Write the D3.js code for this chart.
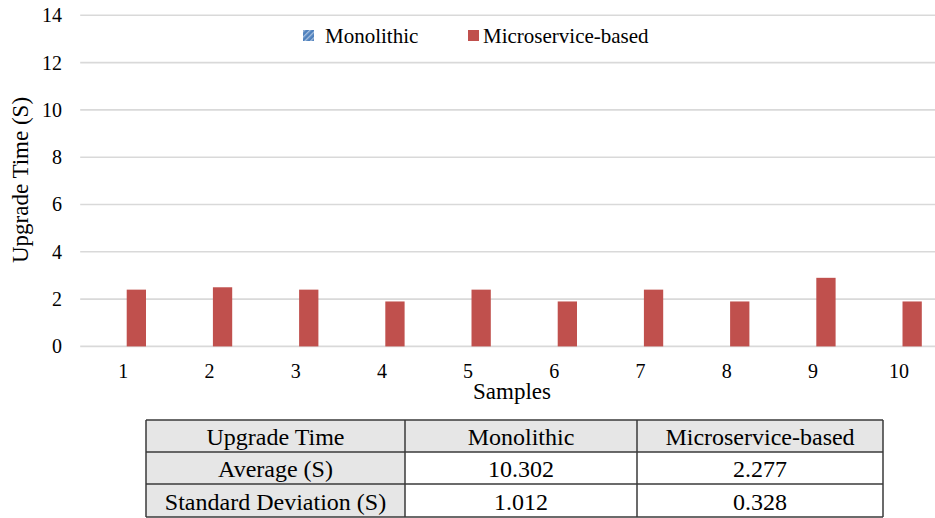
<!DOCTYPE html>
<html>
<head>
<meta charset="utf-8">
<script src="https://cdn.jsdelivr.net/npm/d3@7"></script>
</head>
<body style="margin:0;background:#fff">
<svg id="chart" width="935" height="518" font-family="Liberation Serif"></svg>
<script>
// Upgrade time per sample (seconds)
const samples = ["1", "2", "3", "4", "5", "6", "7", "8", "9", "10"];
const seriesNames = ["Monolithic", "Microservice-based"];
const microserviceTimes = [2.4, 2.5, 2.4, 1.9, 2.4, 1.9, 2.4, 1.9, 2.9, 1.9];
const yTicks = [0, 2, 4, 6, 8, 10, 12, 14];

// Summary table
const tableHeader = ["Upgrade Time", "Monolithic", "Microservice-based"];
const tableRowLabels = ["Average (S)", "Standard Deviation (S)"];
const monolithicStats = ["10.302", "1.012"];
const microserviceStats = ["2.277", "0.328"];

const svg = d3.select("#chart");
const colors = { "Monolithic": "#4f81bd", "Microservice-based": "#c0504d" };

// Apply the serif face to a text selection
function serif(sel, size) {
  sel.attr("font-family", "Liberation Serif")
     .attr("font-size", size)
     .style("font-family", d => "'Liberation Serif'");
  return sel;
}

// Hatched fill used for the monolithic series
const defs = svg.append("defs");
const pat = defs.append("pattern")
  .attr("id", "hatch").attr("patternUnits", "userSpaceOnUse")
  .attr("width", 4).attr("height", 4)
  .attr("patternTransform", "rotate(45)");
pat.append("rect").attr("width", 4).attr("height", 4).attr("fill", "#4f81bd");
pat.append("rect").attr("width", 1.3).attr("height", 4).attr("fill", "#a9c1e0");

const plot = { left: 80.2, right: 942.2, top: 15.3, bottom: 346.4 };

const y = d3.scaleLinear().domain([0, 14]).range([plot.bottom, plot.top]);
const x = d3.scaleBand().domain(samples).range([plot.left, plot.right]).paddingInner(0).paddingOuter(0);
const groupHalf = 22.7;
const xs = d3.scaleBand().domain(seriesNames).range([-groupHalf, groupHalf]).paddingInner(0.261);

// Gridlines
svg.append("g").selectAll("line").data(yTicks).join("line")
  .attr("x1", plot.left).attr("x2", 935)
  .attr("y1", d => y(d)).attr("y2", d => y(d))
  .attr("stroke", "#d9d9d9").attr("stroke-width", 1.6);

// Y axis tick labels
const yAxis = d3.axisLeft(y).tickValues(yTicks).tickSize(0).tickPadding(0);
const yg = svg.append("g").attr("transform", "translate(62,0)").call(yAxis);
yg.select(".domain").remove();
yg.attr("font-family", "Liberation Serif").attr("font-size", 20);
serif(yg.selectAll("text").attr("fill", "#000"), 20);

// X axis tick labels
const xAxis = d3.axisBottom(x).tickSize(0).tickPadding(0);
const xg = svg.append("g").attr("transform", `translate(0,${plot.bottom})`).call(xAxis);
xg.select(".domain").remove();
xg.attr("font-family", "Liberation Serif").attr("font-size", 20);
serif(xg.selectAll("text").attr("fill", "#000").attr("dy", null).attr("y", 32), 20);

// Microservice-based bars
svg.append("g").selectAll("rect").data(microserviceTimes).join("rect")
  .attr("x", (d, i) => x(samples[i]) + x.bandwidth() / 2 + xs("Microservice-based"))
  .attr("width", xs.bandwidth())
  .attr("y", d => y(d))
  .attr("height", d => y(0) - y(d))
  .attr("fill", colors["Microservice-based"]);

// Axis titles
const titles = [
  { text: "Samples", transform: "translate(512,399)" },
  { text: "Upgrade Time (S)", transform: "translate(28,180) rotate(-90)" }
];
serif(svg.append("g").selectAll("text").data(titles).join("text")
  .attr("transform", d => d.transform).attr("text-anchor", "middle")
  .text(d => d.text), 23);

// Legend
const legend = [
  { name: "Monolithic", sx: 303, tx: 325, fill: "url(#hatch)" },
  { name: "Microservice-based", sx: 468, tx: 483, fill: colors["Microservice-based"] }
];
const lg = svg.append("g");
lg.selectAll("rect").data(legend).join("rect")
  .attr("x", d => d.sx).attr("y", 30).attr("width", 11).attr("height", 11)
  .attr("fill", d => d.fill);
serif(lg.selectAll("text").data(legend).join("text")
  .attr("x", d => d.tx).attr("y", 43).text(d => d.name), 21);

// Summary table
const colX = [146, 405, 637, 883];
const rowY = [420, 452, 484, 517];
const rows = [tableHeader].concat(tableRowLabels.map((r, i) => [r, monolithicStats[i], microserviceStats[i]]));
const cells = rows.flatMap((row, ri) => row.map((cell, ci) => ({ cell, ri, ci })));
const tg = svg.append("g");
tg.selectAll("rect").data(cells).join("rect")
  .attr("x", d => colX[d.ci]).attr("y", d => rowY[d.ri])
  .attr("width", d => colX[d.ci + 1] - colX[d.ci])
  .attr("height", d => rowY[d.ri + 1] - rowY[d.ri])
  .attr("fill", d => (d.ri === 0 || d.ci === 0) ? "#e6e6e6" : "#fff");
serif(tg.selectAll("text").data(cells).join("text")
  .attr("x", d => (colX[d.ci] + colX[d.ci + 1]) / 2)
  .attr("y", d => rowY[d.ri + 1] - 7)
  .attr("text-anchor", "middle").text(d => d.cell), 24);
// Table borders
tg.selectAll("line.h").data(rowY).join("line").attr("class", "h")
  .attr("x1", colX[0]).attr("x2", colX[3]).attr("y1", d => d).attr("y2", d => d)
  .attr("stroke", "#3a3a3a").attr("stroke-width", 1.5);
tg.selectAll("line.v").data(colX).join("line").attr("class", "v")
  .attr("x1", d => d).attr("x2", d => d).attr("y1", rowY[0]).attr("y2", rowY[3])
  .attr("stroke", "#3a3a3a").attr("stroke-width", 1.5);
</script>
</body>
</html>
